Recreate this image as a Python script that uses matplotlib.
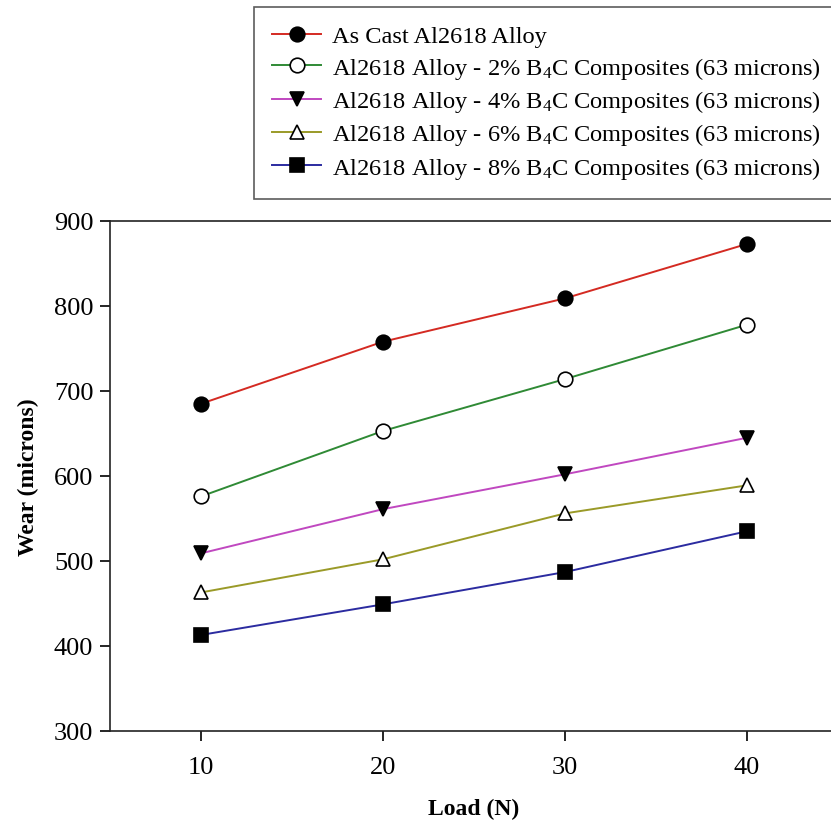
import matplotlib
matplotlib.use("Agg")
import matplotlib.pyplot as plt

plt.rcParams['font.family'] = ['Liberation Serif', 'DejaVu Serif']
plt.rcParams['mathtext.fontset'] = 'custom'
plt.rcParams['mathtext.rm'] = 'Liberation Serif'
plt.rcParams['mathtext.it'] = 'Liberation Serif:italic'

# данные
load = [10, 20, 30, 40]
as_cast = [685, 758, 809, 873]
b4c_2 = [576, 653, 714, 778]
b4c_4 = [509, 561, 602, 645]
b4c_6 = [463, 502, 556, 589]
b4c_8 = [413, 449, 487, 535]

labels = [
    "As Cast Al2618 Alloy",
    "Al2618 Alloy - 2% B$_4$C Composites (63 microns)",
    "Al2618 Alloy - 4% B$_4$C Composites (63 microns)",
    "Al2618 Alloy - 6% B$_4$C Composites (63 microns)",
    "Al2618 Alloy - 8% B$_4$C Composites (63 microns)",
]

W, H = 831, 828
fig = plt.figure(figsize=(W / 100, H / 100), dpi=100)
ax = fig.add_axes([110 / W, (H - 732) / H, (838 - 110) / W, (732 - 222) / H])

series = [
    (as_cast, "#d42a22", "o", "black"),
    (b4c_2, "#2f8a35", "o", "white"),
    (b4c_4, "#c048c0", "v", "black"),
    (b4c_6, "#9a9a28", "^", "white"),
    (b4c_8, "#2b2ba0", "s", "black"),
]
for (vals, col, mk, fc), lab in zip(series, labels):
    ax.plot(load, vals, color=col, linewidth=1.4, marker=mk, markersize=10.5,
            markerfacecolor=fc, markeredgecolor="black", markeredgewidth=1.2,
            label=lab)

ax.set_xlim(5, 45)
ax.set_ylim(300, 900)
ax.set_xticks([10, 20, 30, 40])
ax.set_yticks([300, 400, 500, 600, 700, 800, 900])
ax.tick_params(direction="out", length=7, width=1.2, labelsize=19, pad=5)
ax.tick_params(axis="x", pad=11)
for s in ax.spines.values():
    s.set_linewidth(1.2)
    s.set_color("#222222")

ax.set_xlabel("Load (N)", fontsize=17, fontweight="bold", labelpad=14)
ax.set_ylabel("Wear (microns)", fontsize=17, fontweight="bold", labelpad=11)

leg = fig.legend(loc="upper left", bbox_to_anchor=(254 / W, 1 - 8 / H, 0.75, 0.0),
                 mode="expand", borderaxespad=0, fontsize=17.6, frameon=True,
                 fancybox=False, edgecolor="#333333", handlelength=2.0,
                 borderpad=0.75, labelspacing=0.3, handletextpad=0.45)
leg.get_frame().set_linewidth(1.2)

fig.savefig("out.png", dpi=100)
